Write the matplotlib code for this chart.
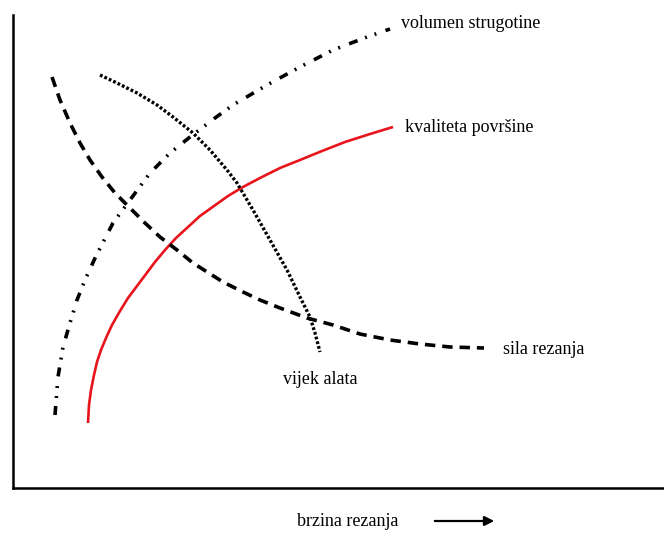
import matplotlib.pyplot as plt

plt.rcParams['font.family'] = 'Liberation Serif'
plt.rcParams['lines.scale_dashes'] = False

# kvaliteta povrsine (red)
kval_x = [75, 76, 78, 81, 84, 88, 93, 99, 107, 115, 124, 133, 142, 152, 163, 175, 187, 201,
          215, 230, 247, 267, 287, 309, 332, 357, 380]
kval_y = [65, 83, 98, 113, 126, 138, 150, 163, 177, 190, 202, 214, 226, 238, 250, 261, 272, 282,
          292, 301, 310, 320, 328, 337, 346, 354, 361]

# volumen strugotine
vol_x = [42, 45, 50, 57, 64, 72, 83, 100, 117, 137, 157, 177, 202, 220, 254, 287, 320, 354, 377]
vol_y = [73, 111, 141, 165, 188, 208, 232, 265, 288, 315, 335, 351, 370, 383, 403, 421, 438, 451, 459]

# sila rezanja
sila_x = [39, 47, 57, 67, 77, 89, 102, 117, 132, 147, 164, 180, 210, 230, 247, 267, 294, 320, 347, 377, 407, 437, 471]
sila_y = [411, 388, 365, 345, 328, 311, 295, 280, 265, 251, 238, 225, 206, 196, 188, 180, 170, 163, 154, 148, 144, 141, 140]

# vijek alata
vijek_x = [87, 104, 124, 144, 160, 180, 197, 214, 224, 240, 257, 274, 287, 297, 302, 307]
vijek_y = [413, 405, 395, 383, 371, 355, 338, 318, 305, 278, 248, 218, 191, 171, 155, 136]

fig = plt.figure(figsize=(6.64, 5.33), dpi=100)
ax = fig.add_axes([13 / 664, 45 / 533, 651 / 664, 473 / 533])

ax.plot(kval_x, kval_y, color='#e8141b', lw=1.9, solid_capstyle='butt')
ax.plot(vol_x, vol_y, color='black', lw=2.6,
        dashes=(6.5, 5.8, 1.4, 5.8, 1.4, 7), dash_capstyle='butt')
ax.plot(sila_x, sila_y, color='black', lw=2.6, dashes=(7.5, 5), dash_capstyle='butt')
ax.plot(vijek_x, vijek_y, color='black', lw=2.4, dashes=(2.0, 1.5), dash_capstyle='butt')

ax.text(388, 465, 'volumen strugotine', fontsize=13, va='center', ha='left')
ax.text(392, 360, 'kvaliteta površine', fontsize=13, va='center', ha='left')
ax.text(490, 139, 'sila rezanja', fontsize=13, va='center', ha='left')
ax.text(270, 108, 'vijek alata', fontsize=13, va='center', ha='left')

ax.set_xlim(0, 651)
ax.set_ylim(0, 473)
ax.set_xticks([])
ax.set_yticks([])
for s in ['top', 'right']:
    ax.spines[s].set_visible(False)
for s in ['left', 'bottom']:
    ax.spines[s].set_linewidth(1.8)

fig.text(297 / 664, 1 - 521 / 533, 'brzina rezanja', fontsize=13, va='center', ha='left')
fig.add_artist(plt.Annotation('', xy=(497 / 664, 1 - 521 / 533), xytext=(432 / 664, 1 - 521 / 533),
                              xycoords='figure fraction', textcoords='figure fraction',
                              arrowprops=dict(arrowstyle='-|>', color='black', lw=1.6,
                                              mutation_scale=14)))

fig.savefig('out.png', dpi=100)
